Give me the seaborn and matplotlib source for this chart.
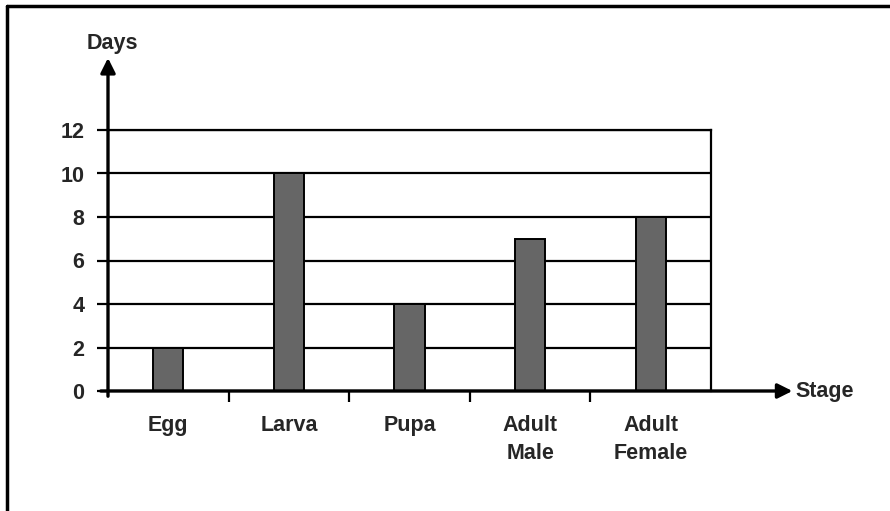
import matplotlib
matplotlib.use("Agg")
import matplotlib.pyplot as plt
import seaborn as sns
from matplotlib.lines import Line2D

stages = ["Egg", "Larva", "Pupa", "Adult\nMale", "Adult\nFemale"]
days = [2, 10, 4, 7, 8]
y_ticks = [0, 2, 4, 6, 8, 10, 12]

sns.set_style("white")
plt.rcParams["font.family"] = ["Liberation Sans", "DejaVu Sans"]
plt.rcParams["font.weight"] = "bold"

fig = plt.figure(figsize=(8.9, 5.11), dpi=100)
ax = fig.add_axes([108 / 890, 120 / 511, 603 / 890, 261 / 511])

sns.barplot(x=stages, y=days, width=0.25, color="#666666", saturation=1,
            edgecolor="black", linewidth=1.4, ax=ax, zorder=3)

ax.set_ylim(0, 12)
ax.set_xlim(-0.5, len(stages) - 0.5)
ax.set_yticks(y_ticks)
ax.set_yticklabels([str(t) for t in y_ticks])
ax.yaxis.grid(True, color="black", linewidth=1.6)
ax.set_axisbelow(True)
ax.set_xlabel("")
ax.set_ylabel("")

# category boundaries get the small tick marks, labels sit at centres
ax.set_xticks([i - 0.5 for i in range(1, len(stages))], minor=True)
ax.tick_params(axis="x", which="major", length=0, pad=17, labelsize=15.5)
ax.tick_params(axis="x", which="minor", length=8, width=1.6, direction="out", color="black")
ax.tick_params(axis="y", length=8, width=1.6, direction="out", color="black", pad=9, labelsize=15.5)
ax.xaxis.set_ticks_position("bottom")
ax.yaxis.set_ticks_position("left")
for lab in ax.get_xticklabels():
    lab.set_linespacing(1.45)

for side in ["top", "right"]:
    ax.spines[side].set_color("black")
    ax.spines[side].set_linewidth(1.6)
ax.spines["left"].set_visible(False)
ax.spines["bottom"].set_visible(False)

# axes drawn as arrows
arrow = dict(arrowstyle="-|>", color="black", lw=2.4, mutation_scale=22, shrinkA=0, shrinkB=0)
ax.annotate("", xy=(0, 1.276), xytext=(0, -0.02), xycoords="axes fraction",
            arrowprops=arrow, annotation_clip=False)
ax.annotate("", xy=(1.135, 0), xytext=(-0.012, 0), xycoords="axes fraction",
            arrowprops=arrow, annotation_clip=False)
ax.text(0.007, 1.33, "Days", transform=ax.transAxes, ha="center", va="center", fontsize=15.5)
ax.text(1.14, 0.0, "Stage", transform=ax.transAxes, ha="left", va="center", fontsize=15.5)

# scanned frame: left and top edge
fig.add_artist(Line2D([7 / 890, 7 / 890], [0, 1 - 6 / 511], color="black", lw=2.5))
fig.add_artist(Line2D([7 / 890, 1], [1 - 6 / 511, 1 - 6 / 511], color="black", lw=2.5))

fig.savefig("out.png", dpi=100)
